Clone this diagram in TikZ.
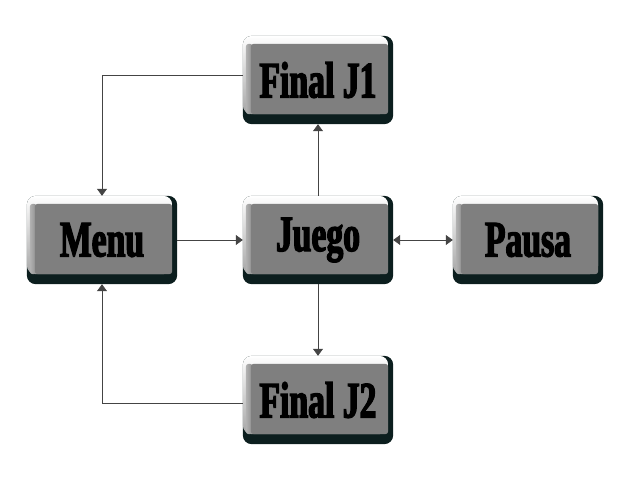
\documentclass[tikz,border=0pt]{standalone}
\usepackage{fontspec}
\setmainfont{Liberation Serif}
\newfontfamily\btnfont[FakeStretch=0.66,FakeBold=2.6]{Liberation Serif Bold}
\usetikzlibrary{arrows.meta,backgrounds}
\definecolor{facegray}{HTML}{7F7F7F}
\definecolor{edgedark}{HTML}{0C1E1E}
\definecolor{linegray}{HTML}{444444}
\tikzset{
  btn/.style={minimum width=150pt,minimum height=88pt,inner sep=0pt,
    font=\btnfont\fontsize{51}{51}\selectfont},
  conn/.style={draw=linegray,line width=0.8pt,-{Triangle[width=10pt,length=7pt]}},
  conn2/.style={draw=linegray,line width=0.8pt,{Triangle[width=10pt,length=7pt]}-{Triangle[width=10pt,length=7pt]}}
}
\newcommand{\bevel}[1]{%
  \fill[edgedark,rounded corners=9pt] (#1.south west) rectangle (#1.north east);
  \shade[rounded corners=9pt,top color=white,bottom color=gray!70]
    ([yshift=10pt]#1.south west) rectangle ([xshift=-5pt]#1.north east);
  \shade[rounded corners=3pt,left color=gray!60,right color=gray!90]
    ([xshift=3pt,yshift=10pt]#1.south west) rectangle ([xshift=10pt,yshift=-8pt]#1.south west |- #1.north east);
  \fill[facegray,rounded corners=3pt]
    ([xshift=8pt,yshift=10pt]#1.south west) rectangle ([xshift=-5pt,yshift=-8pt]#1.north east);
}
\begin{document}
\begin{tikzpicture}[x=1pt,y=1pt]
\useasboundingbox (0,0) rectangle (640,480);
\node[btn] (j1) at (318,400) {Final J1};
\node[btn] (menu) at (102,240) {Menu};
\node[btn] (juego) at (318,240) {Juego};
\node[btn] (pausa) at (528,240) {Pausa};
\node[btn] (j2) at (318,80) {Final J2};
\begin{scope}[on background layer]
  \bevel{j1}\bevel{menu}\bevel{juego}\bevel{pausa}\bevel{j2}
\end{scope}
\draw[conn] ([yshift=5pt]j1.west) -| (menu.north);
\draw[conn] ([yshift=-3pt]j2.west) -| (menu.south);
\draw[conn] (menu.east) -- (juego.west);
\draw[conn] (juego.north) -- (j1.south);
\draw[conn] (juego.south) -- (j2.north);
\draw[conn2] (juego.east) -- (pausa.west);
\end{tikzpicture}
\end{document}
